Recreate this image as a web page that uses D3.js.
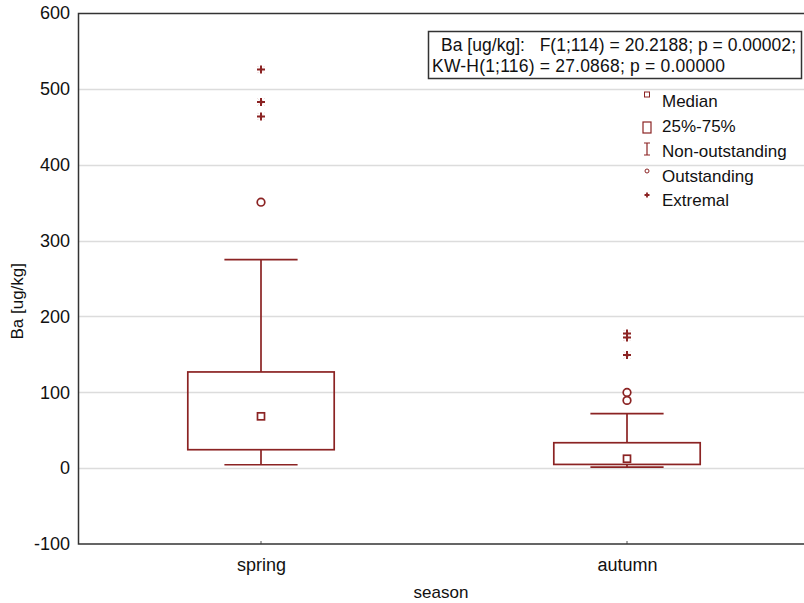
<!DOCTYPE html>
<html>
<head>
<meta charset="utf-8">
<script src="https://cdn.jsdelivr.net/npm/d3@7"></script>
<style>
  body { margin: 0; background: #fff; }
  text { font-family: "Liberation Sans", Arial, sans-serif; fill: #111; }
</style>
</head>
<body>
<div id="chart"></div>
<script>
// chart data
const seasons = ["spring", "autumn"];
const medians = [68.3, 12.4];
const q1 = [24.3, 4.9];
const q3 = [126.8, 33.5];
const whiskLow = [4.5, 1.3];
const whiskHigh = [274.8, 71.9];
const outstanding = [[350.6], [99.7, 89.3]];
const extremal = [[525.4, 482.7, 463.7], [177.5, 172.3, 149.0]];
const yTicks = [-100, 0, 100, 200, 300, 400, 500, 600];
const statLines = ["Ba [ug/kg]:   F(1;114) = 20.2188; p = 0.00002;", "KW-H(1;116) = 27.0868; p = 0.00000"];
const legendItems = ["Median", "25%-75%", "Non-outstanding", "Outstanding", "Extremal"];

const width = 804, height = 603;
const margin = { top: 13, right: -6, bottom: 59, left: 78 };
const red = "#8b2323";
const font = "Liberation Sans, Arial, sans-serif";

const svg = d3.select("#chart").append("svg")
  .attr("width", width).attr("height", height);

const x = d3.scalePoint()
  .domain(seasons)
  .range([margin.left, width - margin.right])
  .padding(0.5);
const step = x.step();
const boxW = step * 0.4, capW = step * 0.2;

const y = d3.scaleLinear()
  .domain([-100, 600])
  .range([height - margin.bottom, margin.top]);

// grid lines
svg.append("g")
  .selectAll("line")
  .data(yTicks.filter(d => d > -100 && d < 600))
  .join("line")
  .attr("x1", margin.left).attr("x2", width)
  .attr("y1", d => Math.round(y(d)) + 0.5).attr("y2", d => Math.round(y(d)) + 0.5)
  .attr("stroke", "#dcdcdc").attr("stroke-width", 1.5);

// y axis labels
const yAxis = d3.axisLeft(y).tickValues(yTicks).tickSize(0).tickPadding(8)
  .tickFormat(d => String(d));
const gy = svg.append("g")
  .attr("transform", `translate(${margin.left},0)`)
  .call(yAxis);
gy.select(".domain").remove();
gy.selectAll("text").attr("font-size", 18).attr("font-family", font).attr("fill", "#111");

// x axis labels
const xAxis = d3.axisBottom(x).tickSize(0).tickPadding(14);
const gx = svg.append("g")
  .attr("transform", `translate(0,${height - margin.bottom})`)
  .call(xAxis);
gx.select(".domain").remove();
gx.selectAll("text").attr("font-size", 18).attr("font-family", font).attr("fill", "#111");
// small inside ticks
svg.append("g").selectAll("line").data(seasons).join("line")
  .attr("x1", d => x(d)).attr("x2", d => x(d))
  .attr("y1", y(-100)).attr("y2", y(-100) - 3)
  .attr("stroke", "#555");

// frame (left, top, bottom)
svg.append("path")
  .attr("d", `M${width},${margin.top + 0.5}H${margin.left + 0.5}V${y(-100)}H${width}`)
  .attr("fill", "none").attr("stroke", "#333").attr("stroke-width", 1.5);

// axis titles
svg.append("text")
  .attr("transform", `translate(23,${y(220)}) rotate(-90)`)
  .attr("text-anchor", "middle").attr("font-size", 17)
  .text("Ba [ug/kg]");
svg.append("text")
  .attr("x", (margin.left + width) / 2).attr("y", 598)
  .attr("text-anchor", "middle").attr("font-size", 17)
  .text("season");

// boxes
const g = svg.append("g").attr("stroke", red).attr("fill", "none").attr("stroke-width", 1.7);
seasons.forEach((s, i) => {
  const cx = x(s);
  g.append("line").attr("x1", cx).attr("x2", cx).attr("y1", y(whiskHigh[i])).attr("y2", y(q3[i]));
  g.append("line").attr("x1", cx).attr("x2", cx).attr("y1", y(q1[i])).attr("y2", y(whiskLow[i]));
  g.append("line").attr("x1", cx - capW / 2).attr("x2", cx + capW / 2).attr("y1", y(whiskHigh[i])).attr("y2", y(whiskHigh[i]));
  g.append("line").attr("x1", cx - capW / 2).attr("x2", cx + capW / 2).attr("y1", y(whiskLow[i])).attr("y2", y(whiskLow[i]));
  g.append("rect").attr("x", cx - boxW / 2).attr("width", boxW)
    .attr("y", y(q3[i])).attr("height", y(q1[i]) - y(q3[i]));
  g.append("rect").attr("x", cx - 3.5).attr("y", y(medians[i]) - 3.5)
    .attr("width", 7).attr("height", 7).attr("fill", "#fff");
  outstanding[i].forEach(v => {
    g.append("circle").attr("cx", cx).attr("cy", y(v)).attr("r", 3.8).attr("fill", "#fff");
  });
  extremal[i].forEach(v => {
    const py = y(v);
    g.append("path").attr("d", `M${cx - 3.5},${py - 3.5}L${cx + 3.5},${py + 3.5}M${cx - 3.5},${py + 3.5}L${cx + 3.5},${py - 3.5}`)
      .attr("stroke-width", 1).attr("stroke-opacity", 0.25).attr("stroke-dasharray", "1.5,1.5");
    g.append("path").attr("d", `M${cx - 4},${py}H${cx + 4}M${cx},${py - 4}V${py + 4}`).attr("stroke-width", 2);
  });
});

// stats box
svg.append("rect").attr("x", 428.5).attr("y", 31.5).attr("width", 373).attr("height", 47)
  .attr("fill", "#fff").attr("stroke", "#333").attr("stroke-width", 1.5);
svg.append("text").attr("x", 441).attr("y", 51).attr("font-size", 17.5)
  .attr("textLength", 355).attr("lengthAdjust", "spacing")
  .attr("xml:space", "preserve").text(statLines[0]);
svg.append("text").attr("x", 432).attr("y", 72).attr("font-size", 17.5)
  .attr("textLength", 293).attr("lengthAdjust", "spacing").text(statLines[1]);

// legend
const lg = svg.append("g").attr("transform", "translate(647,0)");
const ly = [96, 121, 146, 171, 195];
lg.selectAll("text").data(legendItems).join("text")
  .attr("x", 15).attr("y", (d, i) => ly[i] + 11)
  .attr("font-size", 17).text(d => d);
const ls = lg.append("g").attr("stroke", red).attr("fill", "none").attr("stroke-width", 1.2);
ls.append("rect").attr("x", -2.5).attr("y", ly[0] - 4).attr("width", 5).attr("height", 5).attr("stroke-width", 1);
ls.append("rect").attr("x", -4).attr("y", ly[1] + 1).attr("width", 8).attr("height", 11);
ls.append("path").attr("d", `M-3,${ly[2] - 3}H3M0,${ly[2] - 3}V${ly[2] + 9}M-3,${ly[2] + 9}H3`);
ls.append("circle").attr("cx", 0).attr("cy", ly[3]).attr("r", 2).attr("stroke-width", 1);
ls.append("path").attr("d", `M-2.5,${ly[4]}H2.5M0,${ly[4] - 2.5}V${ly[4] + 2.5}`).attr("stroke-width", 1.8);
</script>
</body>
</html>
